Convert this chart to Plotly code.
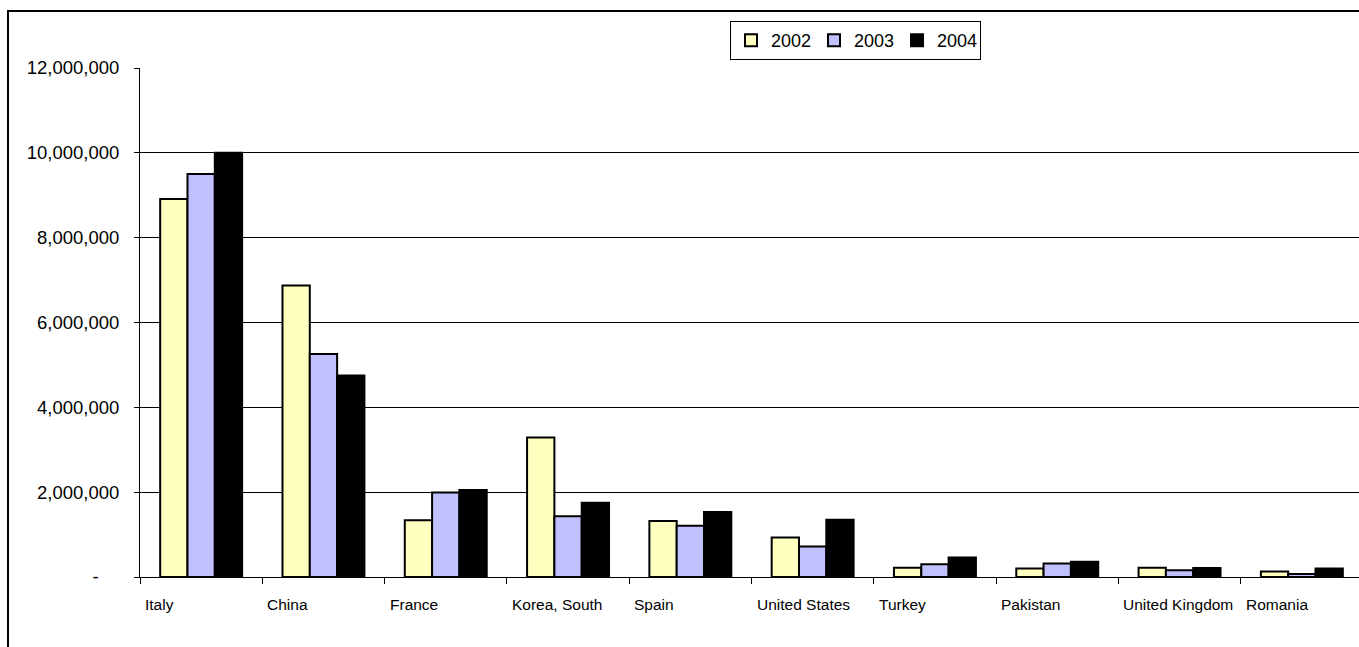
import plotly.graph_objects as go

countries = ["Italy", "China", "France", "Korea, South", "Spain", "United States",
             "Turkey", "Pakistan", "United Kingdom", "Romania"]
years = ["2002", "2003", "2004"]
v2002 = [8910000, 6870000, 1340000, 3290000, 1320000, 930000, 220000, 200000, 220000, 130000]
v2003 = [9500000, 5260000, 1990000, 1430000, 1210000, 720000, 300000, 320000, 160000, 70000]
v2004 = [10000000, 4750000, 2050000, 1750000, 1530000, 1350000, 460000, 360000, 210000, 200000]
colors = ["#FFFFC0", "#C0C0FF", "#000000"]
ytick_vals = [0, 2000000, 4000000, 6000000, 8000000, 10000000, 12000000]
ytick_text = ["-\u00a0\u00a0\u00a0\u00a0", "2,000,000", "4,000,000", "6,000,000",
              "8,000,000", "10,000,000", "12,000,000"]

W, H = 1359, 647
L, R, T, B = 140, 0, 68, 70
pw, ph = W - L - R, H - T - B

fig = go.Figure()
for name, vals, col in zip(years, [v2002, v2003, v2004], colors):
    fig.add_trace(go.Bar(
        x=list(range(len(countries))), y=vals, name=name,
        marker=dict(color=col, line=dict(color="#000000", width=2)),
    ))

# category labels, left-aligned at category boundary
for i, c in enumerate(countries):
    fig.add_annotation(x=i - 0.5, y=0, xref="x", yref="y", text=c, showarrow=False,
                       xanchor="left", yanchor="top", xshift=3, yshift=-17,
                       font=dict(family="Liberation Sans, Arial", size=15.5, color="#000000"))

# outer chart border
fig.add_shape(type="rect", xref="paper", yref="paper",
              x0=(8 - L) / pw, x1=1.05, y0=-0.3, y1=(T + ph - 11) / ph,
              line=dict(color="#000000", width=2), fillcolor="rgba(0,0,0,0)", layer="below")

span = pw / 122.3
fig.update_layout(
    width=W, height=H,
    margin=dict(l=L, r=R, t=T, b=B),
    paper_bgcolor="white", plot_bgcolor="white",
    barmode="group", bargap=0.33, bargroupgap=0,
    font=dict(family="Liberation Sans, Arial", size=18, color="#000000"),
    xaxis=dict(range=[-0.5, -0.5 + span], showticklabels=False, tickmode="array",
               tickvals=[i - 0.5 for i in range(len(countries) + 1)],
               ticks="outside", ticklen=6, tickcolor="#000000", tickwidth=1,
               showline=True, linecolor="#000000", linewidth=1, showgrid=False, zeroline=False,
               fixedrange=True),
    yaxis=dict(range=[0, 12000000], tickmode="array", tickvals=ytick_vals, ticktext=ytick_text,
               ticks="outside", ticklen=5, tickcolor="#000000", tickwidth=1, ticklabelstandoff=11,
               showline=True, linecolor="#000000", linewidth=1,
               showgrid=True, gridcolor="#000000", gridwidth=1, zeroline=False,
               tickfont=dict(size=18.5)),
    legend=dict(orientation="h", x=(730 - L) / pw, y=(T + ph - 21) / ph,
                xanchor="left", yanchor="top", bordercolor="#000000", borderwidth=1,
                bgcolor="white", font=dict(size=18), traceorder="normal",
                itemwidth=30, entrywidth=38, entrywidthmode="pixels", tracegroupgap=0),
    showlegend=True,
)

fig.write_html("out.html")
